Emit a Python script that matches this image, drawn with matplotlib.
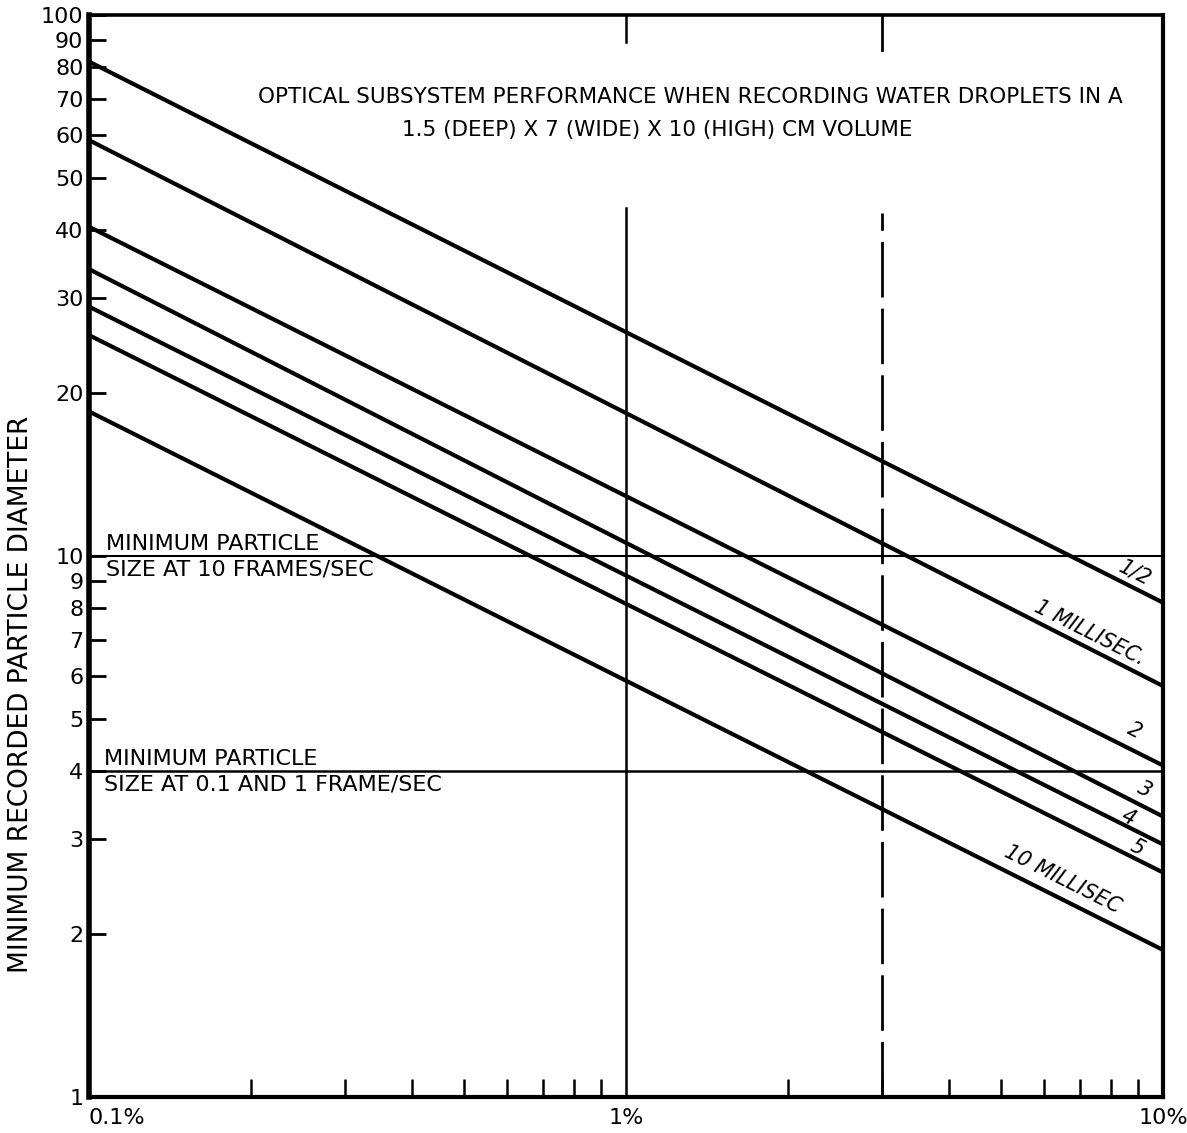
import matplotlib
matplotlib.use("Agg")
import matplotlib.pyplot as plt
import numpy as np

plt.rcParams['font.family'] = ['DejaVu Sans']

# Data: x = concentration (%), y = minimum recorded particle diameter
x_ends = [0.1, 10]
series_names = ["1/2", "1 MILLISEC.", "2", "3", "4", "5", "10 MILLISEC"]
y_half = [82.0, 8.2]
y_1ms = [58.7, 5.75]
y_2ms = [40.6, 4.1]
y_3ms = [33.9, 3.3]
y_4ms = [28.9, 2.93]
y_5ms = [25.6, 2.6]
y_10ms = [18.5, 1.87]
series_values = [y_half, y_1ms, y_2ms, y_3ms, y_4ms, y_5ms, y_10ms]

# label positions (x, y in data) for the series
label_x = [8.87, 7.3, 8.87, 9.25, 8.61, 8.95, 6.5]
label_y = [9.3, 7.2, 4.75, 3.7, 3.28, 2.89, 2.53]

min_size_10fps = 10
min_size_slow = 4

yticks = [1, 2, 3, 4, 5, 6, 7, 8, 9, 10, 20, 30, 40, 50, 60, 70, 80, 90, 100]
ytick_labels = [str(v) for v in yticks]
xticks = [0.1, 1, 10]
xtick_labels = ["0.1%", "1%", "10%"]
xminor = [0.2, 0.3, 0.4, 0.5, 0.6, 0.7, 0.8, 0.9, 2, 3, 4, 5, 6, 7, 8, 9]

fig = plt.figure(figsize=(11.87, 11.33), dpi=100)
ax = fig.add_axes([89/1187, 1 - 1097/1133, (1163 - 89)/1187, (1097 - 15)/1133])
ax.set_xscale('log')
ax.set_yscale('log')
ax.set_xlim(0.1, 10)
ax.set_ylim(1, 100)

for yv in series_values:
    ax.plot(x_ends, yv, color='black', lw=3.0, solid_capstyle='butt')

# horizontal reference lines
ax.axhline(min_size_10fps, color='black', lw=1.5)
ax.axhline(min_size_slow, color='black', lw=1.8)

# vertical lines at 1% (solid) and 3% (dashed)
ax.plot([1, 1], [1, 44], color='black', lw=1.8)
ax.plot([1, 1], [89, 100], color='black', lw=1.8)
ax.plot([3, 3], [1, 43], color='black', lw=2.0, dashes=(20, 4))
ax.plot([3, 3], [86, 100], color='black', lw=2.0)

# spines
for side, w in [('left', 4.0), ('bottom', 3.0), ('top', 2.6), ('right', 3.0)]:
    ax.spines[side].set_linewidth(w)

ax.set_yticks(yticks)
ax.set_yticklabels(ytick_labels)
ax.yaxis.set_minor_locator(matplotlib.ticker.NullLocator())
ax.tick_params(axis='y', which='major', direction='in', length=12, width=2,
               labelsize=16, pad=4)
ax.set_xticks(xminor, minor=True)
ax.set_xticks(xticks)
ax.set_xticklabels(xtick_labels)
ax.tick_params(axis='x', which='major', direction='in', length=0, labelsize=16, pad=8)
ax.tick_params(axis='x', which='minor', direction='in', length=13, width=1.8)
ax.xaxis.set_minor_formatter(matplotlib.ticker.NullFormatter())
labels = ax.get_xticklabels()
labels[0].set_horizontalalignment('left')
labels[-1].set_horizontalalignment('center')

fig.text(21/1187, 1 - 694/1133, "MINIMUM RECORDED PARTICLE DIAMETER", rotation=90,
         ha='center', va='center', fontsize=19)

# title text
ax.text((690 - 89)/1074, (1097 - 97)/1082,
        "OPTICAL SUBSYSTEM PERFORMANCE WHEN RECORDING WATER DROPLETS IN A",
        transform=ax.transAxes, ha='center', va='center', fontsize=15.5)
ax.text((657 - 89)/1074, (1097 - 130)/1082,
        "1.5 (DEEP) X 7 (WIDE) X 10 (HIGH) CM VOLUME",
        transform=ax.transAxes, ha='center', va='center', fontsize=15.5)

# minimum particle annotations
ax.text(0.1076, min_size_10fps * 1.01, "MINIMUM PARTICLE", ha='left', va='bottom', fontsize=16)
ax.text(0.1076, min_size_10fps * 0.985, "SIZE AT 10 FRAMES/SEC", ha='left', va='top', fontsize=16)
ax.text(0.1066, min_size_slow * 1.01, "MINIMUM PARTICLE", ha='left', va='bottom', fontsize=16)
ax.text(0.1066, min_size_slow * 0.985, "SIZE AT 0.1 AND 1 FRAME/SEC", ha='left', va='top', fontsize=16)

# series labels rotated along lines
p0 = ax.transData.transform((x_ends[0], y_half[0]))
p1 = ax.transData.transform((x_ends[1], y_half[1]))
ang = np.degrees(np.arctan2(p1[1] - p0[1], p1[0] - p0[0]))
for name, lx, ly in zip(series_names, label_x, label_y):
    ax.text(lx, ly, name, rotation=ang, rotation_mode='anchor', ha='center', va='center',
            fontsize=15, style='italic')

fig.savefig("out.png", dpi=100)
